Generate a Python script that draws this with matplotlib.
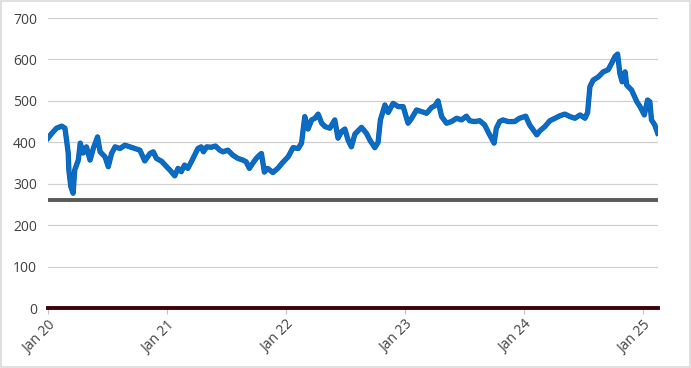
import matplotlib
matplotlib.use("Agg")
import matplotlib.pyplot as plt
import matplotlib.dates as mdates
import matplotlib.patheffects as pe
import pandas as pd

# price series
dates = [
    "2020-01-01", "2020-01-12", "2020-01-27", "2020-02-12", "2020-02-22", "2020-02-27",
    "2020-03-03", "2020-03-05", "2020-03-11", "2020-03-18", "2020-03-23", "2020-04-03",
    "2020-04-09", "2020-04-18", "2020-04-28", "2020-05-09", "2020-05-19", "2020-06-01",
    "2020-06-09", "2020-06-24", "2020-07-04", "2020-07-14", "2020-07-25", "2020-08-09",
    "2020-08-24", "2020-09-08", "2020-09-24", "2020-10-09", "2020-10-24", "2020-11-09",
    "2020-11-19", "2020-11-29", "2020-12-15", "2020-12-30", "2021-01-09", "2021-01-24",
    "2021-02-03", "2021-02-13", "2021-02-23", "2021-03-05", "2021-03-16", "2021-03-26",
    "2021-04-05", "2021-04-15", "2021-04-22", "2021-05-02", "2021-05-16", "2021-05-29",
    "2021-06-11", "2021-06-21", "2021-07-06", "2021-07-21", "2021-08-06", "2021-08-21",
    "2021-08-31", "2021-09-10", "2021-09-20", "2021-10-01", "2021-10-11", "2021-10-17",
    "2021-10-26", "2021-11-05", "2021-11-21", "2021-12-06", "2021-12-21", "2022-01-07",
    "2022-01-22", "2022-02-07", "2022-02-17", "2022-02-27", "2022-03-09", "2022-03-20",
    "2022-03-30", "2022-04-09", "2022-04-20", "2022-04-30", "2022-05-15", "2022-05-30",
    "2022-06-09", "2022-06-20", "2022-06-30", "2022-07-10", "2022-07-20", "2022-07-31",
    "2022-08-20", "2022-09-04", "2022-09-15", "2022-09-30", "2022-10-10", "2022-10-17",
    "2022-10-31", "2022-11-10", "2022-11-25", "2022-12-11", "2022-12-26", "2023-01-10",
    "2023-01-21", "2023-02-05", "2023-02-20", "2023-03-08", "2023-03-23", "2023-04-02",
    "2023-04-12", "2023-04-23", "2023-05-08", "2023-05-23", "2023-06-08", "2023-06-23",
    "2023-07-08", "2023-07-18", "2023-08-02", "2023-08-18", "2023-09-02", "2023-09-12",
    "2023-09-23", "2023-10-01", "2023-10-08", "2023-10-18", "2023-10-28", "2023-11-13",
    "2023-12-03", "2023-12-18", "2024-01-06", "2024-01-18", "2024-02-09", "2024-02-19",
    "2024-03-05", "2024-03-20", "2024-04-05", "2024-04-20", "2024-05-05", "2024-05-21",
    "2024-06-05", "2024-06-21", "2024-07-06", "2024-07-14", "2024-07-21", "2024-07-31",
    "2024-08-16", "2024-08-31", "2024-09-15", "2024-09-26", "2024-10-06", "2024-10-14",
    "2024-10-21", "2024-10-28", "2024-11-06", "2024-11-11", "2024-11-26", "2024-12-12",
    "2024-12-22", "2025-01-04", "2025-01-14", "2025-01-21", "2025-01-26", "2025-02-05",
    "2025-02-14",
]
price = [
    410, 421, 434, 439, 434, 405,
    374, 333, 293, 277, 333, 357,
    398, 374, 389, 357, 385, 413,
    377, 365, 341, 373, 389, 385,
    393, 389, 385, 381, 355, 373,
    377, 361, 354, 341, 333, 319,
    337, 329, 345, 337, 353, 369,
    385, 389, 377, 389, 388, 391,
    381, 377, 381, 369, 361, 357,
    353, 337, 349, 361, 369, 373,
    328, 337, 327, 337, 351, 365,
    387, 385, 398, 462, 432, 454,
    458, 468, 446, 438, 434, 454,
    410, 426, 432, 405, 389, 420,
    436, 422, 405, 387, 400, 454,
    490, 472, 494, 486, 486, 446,
    458, 478, 474, 470, 484, 488,
    500, 462, 446, 450, 458, 454,
    463, 452, 450, 452, 442, 426,
    410, 398, 434, 450, 454, 450,
    450, 458, 463, 442, 418, 428,
    438, 452, 458, 464, 468, 462,
    458, 466, 458, 472, 534, 550,
    558, 570, 575, 591, 607, 613,
    566, 546, 570, 538, 526, 498,
    486, 466, 502, 498, 454, 442,
    422,
]
level_grey = 260
level_red = 0
tick_years = [2020, 2021, 2022, 2023, 2024, 2025]
tick_labels = ["Jan 20", "Jan 21", "Jan 22", "Jan 23", "Jan 24", "Jan 25"]

x = pd.to_datetime(dates)
x_start = pd.Timestamp("2020-01-01")
x_end = pd.Timestamp("2025-02-15")

plt.rcParams["font.family"] = ["Open Sans", "DejaVu Sans"]

fig = plt.figure(figsize=(6.91, 3.68), dpi=100)
ax = fig.add_axes([48 / 691, 1 - 308 / 368, 610 / 691, 290 / 368])

ax.axhline(level_red, color="#3f0008", lw=2.8, zorder=3, clip_on=False)
ax.axhline(level_grey, color="#595959", lw=2.8, zorder=3)
ax.plot(x, price, color="#0a6cc4", lw=3.0, solid_joinstyle="round", zorder=4,
        path_effects=[pe.Stroke(linewidth=3.8, foreground="#0b5aa8"), pe.Normal()])

ax.set_ylim(0, 700)
ax.set_yticks(range(0, 701, 100))
ax.set_xlim(x_start, x_end)
ax.set_xticks([pd.Timestamp(f"{y}-01-01") for y in tick_years])
ax.set_xticklabels(tick_labels, rotation=45, ha="right", rotation_mode="anchor")

ax.grid(axis="y", color="#d0d0d0", lw=0.9)
ax.set_axisbelow(True)
for s in ax.spines.values():
    s.set_visible(False)
ax.tick_params(axis="y", length=0, pad=8, labelsize=10, labelcolor="#404040")
ax.tick_params(axis="x", length=4, width=0.8, color="#bfbfbf", pad=3,
               labelsize=10, labelcolor="#404040")

# light border round the whole chart
fig.patches.append(plt.Rectangle((0.002, 0.003), 0.996, 0.994, transform=fig.transFigure,
                                 fill=False, edgecolor="#d9d9d9", lw=1.2))

fig.savefig("out.png", dpi=100)
